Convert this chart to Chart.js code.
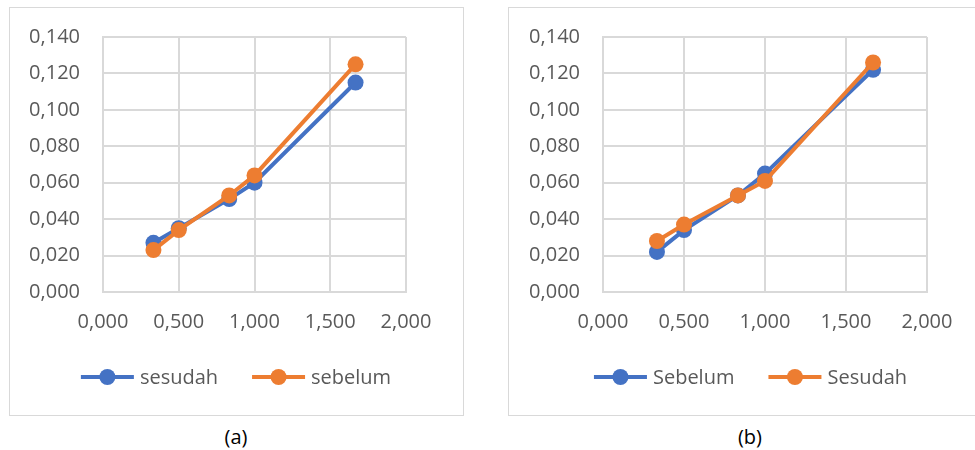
<!DOCTYPE html>
<html><head><meta charset="utf-8">
<script src="https://cdn.jsdelivr.net/npm/chart.js@4.4.1/dist/chart.umd.min.js"></script>
<style>
html,body{margin:0;padding:0}
body{width:975px;height:450px;overflow:hidden;background:#fff;position:relative;font-family:'Open Sans',sans-serif}
.box{position:absolute;border:1.5px solid #d9d9d9;box-sizing:border-box}
canvas{position:absolute}
.cap{position:absolute;top:424px;width:200px;font-size:20px;line-height:26px;color:#000;text-align:center}
</style></head><body>
<div class="box" style="left:9px;top:7px;width:455px;height:409px"></div>
<div class="box" style="left:508px;top:7px;width:490px;height:409px"></div>
<canvas id="cA" width="454" height="408" style="left:9px;top:7px"></canvas>
<canvas id="cB" width="485" height="408" style="left:508px;top:7px"></canvas>
<div class="cap" style="left:136px">(a)</div>
<div class="cap" style="left:650px">(b)</div>
<script>
// ---- data ----
const xValues = [0.333, 0.5, 0.833, 1.0, 1.667];
const aLabels = ['sesudah', 'sebelum'];
const aSesudah = [0.027, 0.035, 0.051, 0.060, 0.115];
const aSebelum = [0.023, 0.034, 0.053, 0.064, 0.125];
const bLabels = ['Sebelum', 'Sesudah'];
const bSebelum = [0.022, 0.034, 0.053, 0.065, 0.122];
const bSesudah = [0.028, 0.037, 0.053, 0.061, 0.126];
const yTicks = [0, 0.02, 0.04, 0.06, 0.08, 0.10, 0.12, 0.14];
const xTicks = [0, 0.5, 1.0, 1.5, 2.0];

const BLUE = '#4472C4', ORANGE = '#ED7D31', GRID = '#d9d9d9', TXT = '#595959';
Chart.defaults.font.family = "'Open Sans', sans-serif";
Chart.defaults.font.size = 20;
Chart.defaults.color = TXT;

const fmt = v => Number(v).toFixed(3).replace('.', ',');
const pts = ys => xValues.map((x, i) => ({x: x, y: ys[i]}));

const legendPlugin = {
  id: 'lineLegend',
  afterDraw(chart) {
    const ctx = chart.ctx;
    const items = chart.data.datasets.slice().sort((a, b) => a.legendIndex - b.legendIndex);
    ctx.save();
    ctx.font = "20px 'Open Sans', sans-serif";
    const lineW = 53, gapT = 6, gapI = 34;
    let total = 0;
    items.forEach((d, i) => { total += lineW + gapT + ctx.measureText(d.label).width + (i ? gapI : 0); });
    let x = (chart.width - total) / 2;
    const y = 370;
    items.forEach((d, i) => {
      if (i) x += gapI;
      ctx.strokeStyle = d.borderColor; ctx.lineWidth = 4;
      ctx.beginPath(); ctx.moveTo(x, y); ctx.lineTo(x + lineW, y); ctx.stroke();
      ctx.fillStyle = d.borderColor;
      ctx.beginPath(); ctx.arc(x + lineW / 2, y, 8, 0, Math.PI * 2); ctx.fill();
      x += lineW + gapT;
      ctx.fillStyle = TXT; ctx.textBaseline = 'middle'; ctx.textAlign = 'left';
      ctx.fillText(d.label, x, y + 1);
      x += ctx.measureText(d.label).width;
    });
    ctx.restore();
  }
};

function makeChart(id, labels, s1, s2, plotLeft, plotRight) {
  const canvas = document.getElementById(id);
  const W = canvas.width;
  const ds = (label, data, color, order, li) => ({
    label, data: pts(data), borderColor: color, backgroundColor: color,
    pointBackgroundColor: color, pointBorderWidth: 0, pointRadius: 8, pointHoverRadius: 8,
    borderWidth: 4, showLine: true, order, legendIndex: li
  });
  new Chart(canvas, {
    type: 'scatter',
    data: { datasets: [ds(labels[0], s1, BLUE, 1, 0), ds(labels[1], s2, ORANGE, 0, 1)] },
    options: {
      responsive: false, animation: false,
      layout: { padding: { left: 0, top: 30, right: W - plotRight, bottom: 0 } },
      plugins: { legend: { display: false }, tooltip: { enabled: false } },
      scales: {
        x: {
          type: 'linear', min: xTicks[0], max: xTicks[xTicks.length - 1],
          afterBuildTicks: s => { s.ticks = xTicks.map(v => ({value: v})); },
          afterFit: s => { s.height = 123; s.paddingLeft = 0; s.paddingRight = 0; },
          grid: { color: GRID, lineWidth: 2, drawTicks: false },
          border: { color: GRID, width: 2 },
          ticks: { padding: 18, callback: fmt, maxRotation: 0 }
        },
        y: {
          type: 'linear', min: yTicks[0], max: yTicks[yTicks.length - 1],
          afterBuildTicks: s => { s.ticks = yTicks.map(v => ({value: v})); },
          afterFit: s => { s.width = plotLeft; s.paddingTop = 0; s.paddingBottom = 0; },
          grid: { color: GRID, lineWidth: 2, drawTicks: false },
          border: { color: GRID, width: 2 },
          ticks: { padding: 23, callback: fmt }
        }
      }
    },
    plugins: [legendPlugin]
  });
}
makeChart('cA', aLabels, aSesudah, aSebelum, 94, 397);
makeChart('cB', bLabels, bSebelum, bSesudah, 95, 419);
</script>
</body></html>
